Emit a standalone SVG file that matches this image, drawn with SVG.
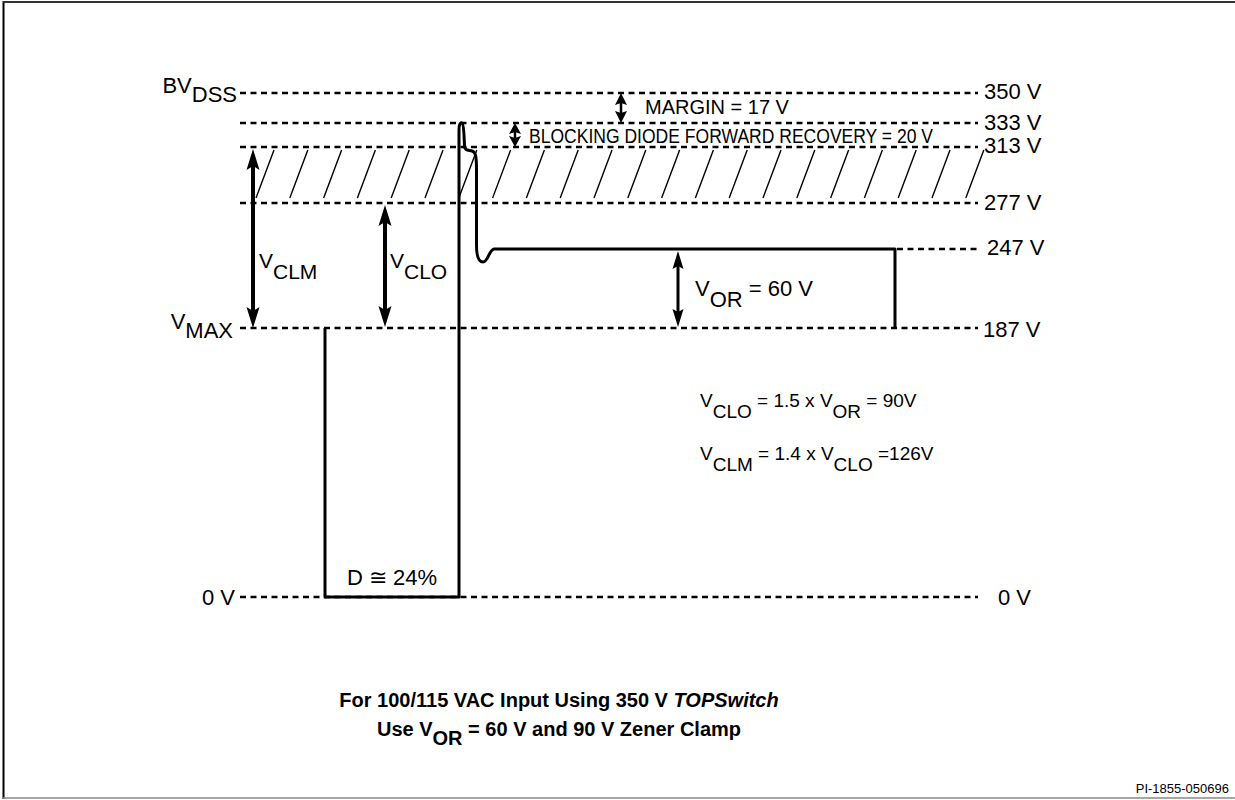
<svg xmlns="http://www.w3.org/2000/svg" width="1235" height="800" viewBox="0 0 1235 800">
<style>
text{font-family:"Liberation Sans",Arial,sans-serif;fill:#000}
.lbl{font-size:22px}
.mid{font-size:21px}
.frm{font-size:19px}
.dash{stroke:#000;stroke-width:2.5;stroke-dasharray:6 4.5;fill:none}
.hatch{stroke:#000;stroke-width:1.4}
.wave{stroke:#000;stroke-width:3;fill:none;stroke-linejoin:round}
.shaft{stroke:#000;fill:none}
.head{fill:#000}
.title{font-size:20px;font-weight:bold}
</style>
<rect x="0" y="0" width="1235" height="800" fill="#fff"/>
<g id="frame">
<line x1="3.5" y1="1" x2="3.5" y2="799" stroke="#000" stroke-width="2"/>
<line x1="3" y1="2" x2="1235" y2="2" stroke="#333" stroke-width="2"/>
<line x1="3" y1="798" x2="1235" y2="798" stroke="#888" stroke-width="1.5"/>
</g>
<g id="levels">
<line class="dash" x1="240" y1="93" x2="978" y2="93"/>
<line class="dash" x1="240" y1="123" x2="978" y2="123"/>
<line class="dash" x1="240" y1="147" x2="978" y2="147"/>
<line class="dash" x1="240" y1="203" x2="978" y2="203"/>
<line class="dash" x1="897" y1="249" x2="978" y2="249"/>
<line class="dash" x1="240" y1="328" x2="978" y2="328"/>
<line class="dash" x1="240" y1="597" x2="978" y2="597"/>
</g>
<g id="hatching">
<line class="hatch" x1="256" y1="198" x2="274" y2="150"/>
<line class="hatch" x1="289.8" y1="198" x2="307.8" y2="150"/>
<line class="hatch" x1="323.6" y1="198" x2="341.6" y2="150"/>
<line class="hatch" x1="357.4" y1="198" x2="375.4" y2="150"/>
<line class="hatch" x1="391.2" y1="198" x2="409.2" y2="150"/>
<line class="hatch" x1="425" y1="198" x2="443" y2="150"/>
<line class="hatch" x1="458.8" y1="198" x2="476.8" y2="150"/>
<line class="hatch" x1="492.6" y1="198" x2="510.6" y2="150"/>
<line class="hatch" x1="526.4" y1="198" x2="544.4" y2="150"/>
<line class="hatch" x1="560.2" y1="198" x2="578.2" y2="150"/>
<line class="hatch" x1="594" y1="198" x2="612" y2="150"/>
<line class="hatch" x1="627.8" y1="198" x2="645.8" y2="150"/>
<line class="hatch" x1="661.6" y1="198" x2="679.6" y2="150"/>
<line class="hatch" x1="695.4" y1="198" x2="713.4" y2="150"/>
<line class="hatch" x1="729.2" y1="198" x2="747.2" y2="150"/>
<line class="hatch" x1="763" y1="198" x2="781" y2="150"/>
<line class="hatch" x1="796.8" y1="198" x2="814.8" y2="150"/>
<line class="hatch" x1="830.6" y1="198" x2="848.6" y2="150"/>
<line class="hatch" x1="864.4" y1="198" x2="882.4" y2="150"/>
<line class="hatch" x1="898.2" y1="198" x2="916.2" y2="150"/>
<line class="hatch" x1="932" y1="198" x2="950" y2="150"/>
<line class="hatch" x1="965.8" y1="198" x2="983.8" y2="150"/>
</g>
<g id="waveform">
<path class="wave" d="M325,328 L325,597 L459,597 L459,130 C459,124 460.5,122 462,123 C464,124 464,136 464.5,146 C465,151 468,150 472,151 C476,152 476.5,158 476.5,170 L476.5,245 C476.5,258 479,262 483,262 C488,262 489,250 494,249 L895,249 L895,328"/>
</g>
<g id="connectors">
<g id="arrow-vclm">
<line class="shaft" x1="253" y1="164" x2="253" y2="313" stroke-width="4"/>
<path class="head" d="M253,149 L259.5,170 L253,166 L246.5,170 Z"/>
<path class="head" d="M253,328 L259.5,307 L253,311 L246.5,307 Z"/>
</g>
<g id="arrow-vclo">
<line class="shaft" x1="385" y1="220" x2="385" y2="312" stroke-width="4"/>
<path class="head" d="M385,205 L391.5,226 L385,222 L378.5,226 Z"/>
<path class="head" d="M385,327 L391.5,306 L385,310 L378.5,306 Z"/>
</g>
<g id="arrow-vor">
<line class="shaft" x1="678" y1="264" x2="678" y2="314" stroke-width="3"/>
<path class="head" d="M678,251 L683.5,269 L678,266 L672.5,269 Z"/>
<path class="head" d="M678,327 L683.5,309 L678,312 L672.5,309 Z"/>
</g>
<g id="arrow-margin">
<line class="shaft" x1="621" y1="100" x2="621" y2="116" stroke-width="2.5"/>
<path class="head" d="M621,93 L627,105 L621,103 L615,105 Z"/>
<path class="head" d="M621,123 L627,111 L621,113 L615,111 Z"/>
</g>
<g id="arrow-blocking">
<line class="shaft" x1="515" y1="129" x2="515" y2="141" stroke-width="2.5"/>
<path class="head" d="M515,123 L521,134 L515,132 L509,134 Z"/>
<path class="head" d="M515,147 L521,136 L515,138 L509,136 Z"/>
</g>
</g>
<g id="labels-left">
<text class="lbl" x="237" y="93" text-anchor="end">BV<tspan dy="9">DSS</tspan></text>
<text class="lbl" x="233" y="329" text-anchor="end">V<tspan dy="9">MAX</tspan></text>
<text class="lbl" x="235" y="605" text-anchor="end">0 V</text>
</g>
<g id="labels-right">
<text class="lbl" x="984" y="99">350 V</text>
<text class="lbl" x="984" y="130">333 V</text>
<text class="lbl" x="984" y="153">313 V</text>
<text class="lbl" x="984" y="210">277 V</text>
<text class="lbl" x="987" y="255">247 V</text>
<text class="lbl" x="983" y="337">187 V</text>
<text class="lbl" x="998" y="605">0 V</text>
</g>
<g id="annotations">
<text x="645" y="114" style="font-size:20px">MARGIN = 17 V</text>
<text x="529" y="143" style="font-size:20px" textLength="404" lengthAdjust="spacingAndGlyphs">BLOCKING DIODE FORWARD RECOVERY = 20 V</text>
<text class="mid" x="259" y="268">V<tspan dy="11">CLM</tspan></text>
<text class="mid" x="390" y="268">V<tspan dy="11">CLO</tspan></text>
<text class="lbl" x="695" y="296">V<tspan dy="11">OR</tspan><tspan dy="-11"> = 60 V</tspan></text>
<text class="lbl" x="347" y="585">D ≅ 24%</text>
<text class="frm" x="700" y="407">V<tspan dy="11">CLO</tspan><tspan dy="-11"> = 1.5 x V</tspan><tspan dy="11">OR</tspan><tspan dy="-11"> = 90V</tspan></text>
<text class="frm" x="700" y="460">V<tspan dy="11">CLM</tspan><tspan dy="-11"> = 1.4 x V</tspan><tspan dy="11">CLO</tspan><tspan dy="-11"> =126V</tspan></text>
</g>
<g id="title">
<text class="title" x="559" y="707" text-anchor="middle">For 100/115 VAC Input Using 350 V <tspan font-style="italic">TOPSwitch</tspan></text>
<text class="title" x="559" y="736" text-anchor="middle">Use V<tspan dy="9">OR</tspan><tspan dy="-9"> = 60 V and 90 V Zener Clamp</tspan></text>
</g>
<text x="1229" y="793" text-anchor="end" style="font-size:13px">PI-1855-050696</text>
</svg>
